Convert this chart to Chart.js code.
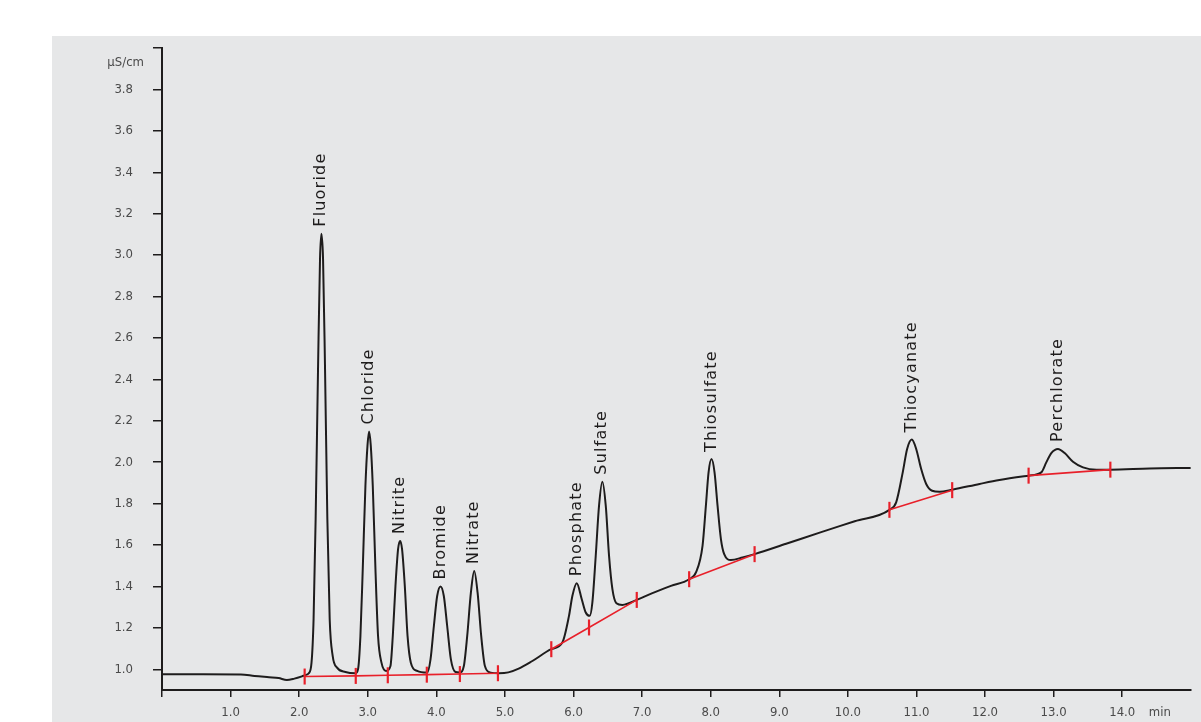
<!DOCTYPE html>
<html>
<head>
<meta charset="utf-8">
<title>Ion chromatogram</title>
<script src="https://cdn.jsdelivr.net/npm/chart.js@4.4.1/dist/chart.umd.min.js"></script>
<style>
  html, body { margin: 0; padding: 0; background: #ffffff; width: 1201px; height: 722px; overflow: hidden; }
  #panel { position: absolute; left: 52px; top: 36px; width: 1149px; height: 686px; background: #e6e7e8; }
  #panel canvas { display: block; }
</style>
</head>
<body>
<div id="panel"><canvas id="chrom"></canvas></div>
<script>
// Conductivity trace: retention time (min) and signal (µS/cm)
const traceTime = [
  0.00, 0.60, 1.15, 1.35, 1.56, 1.70, 1.82, 1.93, 2.04, 2.09,
  2.14, 2.18, 2.21, 2.24, 2.275, 2.304, 2.324, 2.348, 2.377, 2.411,
  2.445, 2.489, 2.552, 2.674, 2.82, 2.858, 2.893, 2.927, 2.966, 2.996,
  3.019, 3.044, 3.073, 3.112, 3.150, 3.200, 3.267, 3.331, 3.365, 3.404,
  3.442, 3.472, 3.500, 3.540, 3.580, 3.628, 3.720, 3.866, 3.915, 3.964,
  4.012, 4.061, 4.109, 4.158, 4.212, 4.280, 4.343, 4.401, 4.450, 4.504,
  4.552, 4.601, 4.654, 4.708, 4.791, 4.912, 5.05, 5.20, 5.40, 5.676,
  5.837, 5.934, 5.983, 6.047, 6.120, 6.178, 6.236, 6.275, 6.324, 6.372,
  6.420, 6.470, 6.518, 6.567, 6.625, 6.712, 6.922, 7.15, 7.42, 7.686, 7.785,
  7.881, 7.930, 7.969, 8.012, 8.056, 8.100, 8.149, 8.197, 8.295, 8.464,
  8.640, 9.10, 9.60, 10.10, 10.606, 10.704, 10.800, 10.864, 10.932, 10.996, 11.069, 11.142,
  11.229, 11.336, 11.521, 11.92, 12.21, 12.635, 12.82, 12.893, 12.966, 13.063,
  13.161, 13.282, 13.428, 13.623, 13.827, 14.40, 15.00
];
const traceSignal = [
  0.976, 0.976, 0.975, 0.968, 0.962, 0.958, 0.948, 0.955, 0.966, 0.972,
  0.981, 1.032, 1.242, 1.725, 2.451, 2.983, 3.103, 2.983, 2.451, 1.725,
  1.242, 1.064, 1.008, 0.987, 0.981, 1.000, 1.161, 1.484, 1.886, 2.080,
  2.148, 2.080, 1.886, 1.484, 1.161, 1.032, 0.992, 1.016, 1.161, 1.403,
  1.580, 1.620, 1.580, 1.403, 1.161, 1.032, 0.992, 0.984, 1.048, 1.209,
  1.354, 1.400, 1.354, 1.209, 1.048, 0.987, 0.985, 1.016, 1.161, 1.371,
  1.475, 1.371, 1.161, 1.016, 0.984, 0.981, 0.985, 1.003, 1.040, 1.097,
  1.129, 1.258, 1.354, 1.416, 1.338, 1.274, 1.258, 1.323, 1.548, 1.790,
  1.906, 1.790, 1.548, 1.387, 1.319, 1.311, 1.335, 1.368, 1.403, 1.435, 1.468,
  1.596, 1.790, 1.951, 2.015, 1.951, 1.790, 1.629, 1.556, 1.528, 1.540,
  1.556, 1.606, 1.661, 1.715, 1.770, 1.806, 1.951, 2.064, 2.109, 2.064, 1.967, 1.895,
  1.862, 1.857, 1.867, 1.895, 1.914, 1.935, 1.951, 1.999, 2.044, 2.064,
  2.044, 2.002, 1.975, 1.964, 1.964, 1.970, 1.972
];

// Identified peaks and their retention times (min)
const peakNames = ['Fluoride', 'Chloride', 'Nitrite', 'Bromide', 'Nitrate',
                   'Phosphate', 'Sulfate', 'Thiosulfate', 'Thiocyanate', 'Perchlorate'];
const peakTimes = [2.324, 3.019, 3.472, 4.061, 4.552, 6.047, 6.420, 8.012, 10.932, 13.063];

// Integration baselines: start / split / end marks of each peak group
const baselineTimes = [
  [2.080, 2.825, 3.292, 3.861, 4.343, 4.898],
  [5.676, 6.226, 6.922],
  [7.686, 8.640],
  [10.606, 11.521],
  [12.635, 13.827]
];
const baselineSignals = [
  [0.965, 0.968, 0.971, 0.974, 0.977, 0.981],
  [1.097, 1.202, 1.335],
  [1.435, 1.556],
  [1.770, 1.865],
  [1.935, 1.964]
];

// Axis ticks
const timeTicks = [0, 1, 2, 3, 4, 5, 6, 7, 8, 9, 10, 11, 12, 13, 14];
const signalTicks = [1.0, 1.2, 1.4, 1.6, 1.8, 2.0, 2.2, 2.4, 2.6, 2.8, 3.0, 3.2, 3.4, 3.6, 3.8, 4.0];

const INK = '#1e1c1c';
const RED = '#e8202a';
const TICK_GREY = '#4a4a4a';
const NARROW = '"Liberation Sans Narrow", "DejaVu Sans Condensed", "Roboto Condensed", sans-serif';

const traceDataset = {
  label: 'Conductivity',
  data: traceTime.map((t, i) => ({ x: t, y: traceSignal[i] })),
  borderColor: INK,
  borderWidth: 2,
  pointRadius: 0,
  cubicInterpolationMode: 'monotone',
  fill: false,
  order: 2
};

const baselineDatasets = baselineTimes.map((times, g) => ({
  label: 'Baseline ' + (g + 1),
  data: times.map((t, i) => ({ x: t, y: baselineSignals[g][i] })),
  borderColor: RED,
  borderWidth: 1.6,
  tension: 0,
  pointStyle: 'line',
  pointRotation: 90,
  pointRadius: 8,
  pointBorderWidth: 2.2,
  pointBorderColor: RED,
  pointBackgroundColor: RED,
  clip: false,
  order: 1
}));

// Peak names written upward above each apex, plus axis unit captions
const annotationPlugin = {
  id: 'chromAnnotations',
  afterDatasetsDraw(chart) {
    const { ctx, chartArea, scales: { x, y } } = chart;
    ctx.save();
    ctx.font = '16px "DejaVu Sans", Verdana, sans-serif';
    ctx.letterSpacing = '1.2px';
    ctx.fillStyle = INK;
    ctx.textAlign = 'left';
    ctx.textBaseline = 'alphabetic';
    peakNames.forEach((name, i) => {
      const idx = traceTime.indexOf(peakTimes[i]);
      const px = x.getPixelForValue(peakTimes[i]);
      const py = y.getPixelForValue(traceSignal[idx]);
      ctx.save();
      ctx.translate(px + 4, py - 7);
      ctx.rotate(-Math.PI / 2);
      ctx.fillText(name, 0, 0);
      ctx.restore();
    });
    ctx.letterSpacing = '0px';
    ctx.font = '13px ' + NARROW;
    ctx.fillStyle = TICK_GREY;
    ctx.textBaseline = 'middle';
    ctx.textAlign = 'right';
    ctx.fillText('µS/cm', chartArea.left - 18, chartArea.top + 15);
    ctx.textAlign = 'center';
    ctx.fillText('min', chartArea.right - 31, chartArea.bottom + 23);
    ctx.restore();
  }
};

new Chart(document.getElementById('chrom'), {
  type: 'line',
  data: { datasets: [traceDataset, ...baselineDatasets] },
  options: {
    responsive: true,
    maintainAspectRatio: false,
    devicePixelRatio: 1,
    animation: false,
    events: [],
    layout: { padding: { top: 12, right: 9, left: 0, bottom: 0 } },
    plugins: { legend: { display: false }, tooltip: { enabled: false } },
    scales: {
      x: {
        type: 'linear',
        min: 0,
        max: 15,
        border: { display: true, color: INK, width: 2 },
        grid: { display: true, drawOnChartArea: false, drawTicks: true, tickLength: 7, color: INK, lineWidth: 1.5 },
        ticks: {
          autoSkip: false,
          maxRotation: 0,
          padding: 8,
          color: TICK_GREY,
          font: { family: NARROW, size: 13 },
          callback: (v) => (v === 0 ? '' : Number(v).toFixed(1))
        },
        afterBuildTicks: (scale) => { scale.ticks = timeTicks.map(v => ({ value: v })); },
        afterFit: (scale) => {
          scale.height = 32;
          scale.paddingLeft = 0; scale.paddingRight = 0;
          scale.paddingTop = 0; scale.paddingBottom = 0;
        }
      },
      y: {
        type: 'linear',
        min: 0.9,
        max: 4.0,
        border: { display: true, color: INK, width: 2 },
        grid: { display: true, drawOnChartArea: false, drawTicks: true, tickLength: 9, color: INK, lineWidth: 1.5 },
        ticks: {
          autoSkip: false,
          padding: 20,
          color: TICK_GREY,
          font: { family: NARROW, size: 13 },
          callback: (v) => (Math.abs(v - 4.0) < 1e-9 ? '' : Number(v).toFixed(1))
        },
        afterBuildTicks: (scale) => { scale.ticks = signalTicks.map(v => ({ value: v })); },
        afterFit: (scale) => {
          scale.width = 110;
          scale.paddingLeft = 0; scale.paddingRight = 0;
          scale.paddingTop = 0; scale.paddingBottom = 0;
        }
      }
    }
  },
  plugins: [annotationPlugin]
});
</script>
</body>
</html>
